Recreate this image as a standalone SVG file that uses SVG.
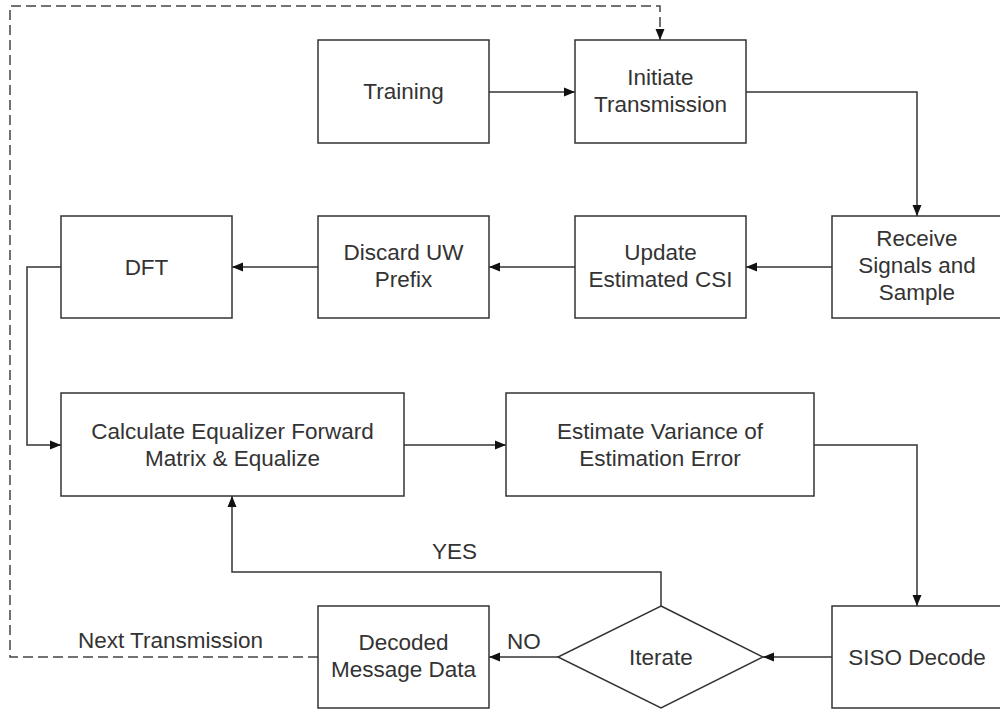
<svg xmlns="http://www.w3.org/2000/svg" width="1000" height="709" viewBox="0 0 1000 709">
<style>
  .box { fill: #ffffff; stroke: #333333; stroke-width: 1.5; }
  .t { font-family: "Liberation Sans", Arial, sans-serif; font-size: 22.5px; fill: #333333; text-anchor: middle; }
  .l { font-family: "Liberation Sans", Arial, sans-serif; font-size: 22.5px; fill: #333333; }
  .c { fill: none; stroke: #333333; stroke-width: 1.5; }
  .d { fill: none; stroke: #444444; stroke-width: 1.5; stroke-dasharray: 10 5; }
</style>
<defs>
  <marker id="arr" markerUnits="userSpaceOnUse" markerWidth="12" markerHeight="10" refX="11" refY="5" orient="auto">
    <path d="M0,0.5 L11,5 L0,9.5 Z" fill="#111111"/>
  </marker>
</defs>
<rect width="1000" height="709" fill="#ffffff"/>
<g id="connectors">
  <path class="c" d="M489,92 H575" marker-end="url(#arr)"/>
  <path class="c" d="M746,92 H917 V216" marker-end="url(#arr)"/>
  <path class="c" d="M832,267 H746" marker-end="url(#arr)"/>
  <path class="c" d="M575,267 H489" marker-end="url(#arr)"/>
  <path class="c" d="M318,267 H232" marker-end="url(#arr)"/>
  <path class="c" d="M61,267 H27 V445 H61" marker-end="url(#arr)"/>
  <path class="c" d="M404,445 H506" marker-end="url(#arr)"/>
  <path class="c" d="M814,445 H917 V606" marker-end="url(#arr)"/>
  <path class="c" d="M832,657 H763" marker-end="url(#arr)"/>
  <path class="c" d="M558,657 H489" marker-end="url(#arr)"/>
  <path class="c" d="M661,606 V572 H232 V496" marker-end="url(#arr)"/>
  <path class="d" d="M318,657 H10 V6 H660 V40" marker-end="url(#arr)"/>
  <text class="l" x="432" y="559">YES</text>
  <text class="l" x="507" y="649">NO</text>
  <text class="l" x="78" y="648">Next Transmission</text>
</g>
<g id="training">
  <rect class="box" x="318" y="40" width="171" height="103"/>
  <text class="t" x="403.5" y="99">Training</text>
</g>
<g id="initiate">
  <rect class="box" x="575" y="40" width="171" height="103"/>
  <text class="t" x="660.5" y="85">Initiate</text>
  <text class="t" x="660.5" y="112">Transmission</text>
</g>
<g id="receive">
  <rect class="box" x="832" y="216" width="171" height="102"/>
  <text class="t" x="917" y="246">Receive</text>
  <text class="t" x="917" y="273">Signals and</text>
  <text class="t" x="917" y="300">Sample</text>
</g>
<g id="update">
  <rect class="box" x="575" y="216" width="171" height="102"/>
  <text class="t" x="660.5" y="260">Update</text>
  <text class="t" x="660.5" y="287">Estimated CSI</text>
</g>
<g id="discard">
  <rect class="box" x="318" y="216" width="171" height="102"/>
  <text class="t" x="403.5" y="260">Discard UW</text>
  <text class="t" x="403.5" y="287">Prefix</text>
</g>
<g id="dft">
  <rect class="box" x="61" y="216" width="171" height="102"/>
  <text class="t" x="146.5" y="275">DFT</text>
</g>
<g id="calculate">
  <rect class="box" x="61" y="393" width="343" height="103"/>
  <text class="t" x="232.5" y="439">Calculate Equalizer Forward</text>
  <text class="t" x="232.5" y="466">Matrix &amp; Equalize</text>
</g>
<g id="estimate">
  <rect class="box" x="506" y="393" width="308" height="103"/>
  <text class="t" x="660" y="439">Estimate Variance of</text>
  <text class="t" x="660" y="466">Estimation Error</text>
</g>
<g id="siso">
  <rect class="box" x="832" y="606" width="171" height="102"/>
  <text class="t" x="917" y="665">SISO Decode</text>
</g>
<g id="iterate">
  <polygon class="box" points="661,606 763,657 661,708 558,657"/>
  <text class="t" x="661" y="665">Iterate</text>
</g>
<g id="decoded">
  <rect class="box" x="318" y="606" width="171" height="102"/>
  <text class="t" x="403.5" y="650">Decoded</text>
  <text class="t" x="403.5" y="677">Message Data</text>
</g>
</svg>
